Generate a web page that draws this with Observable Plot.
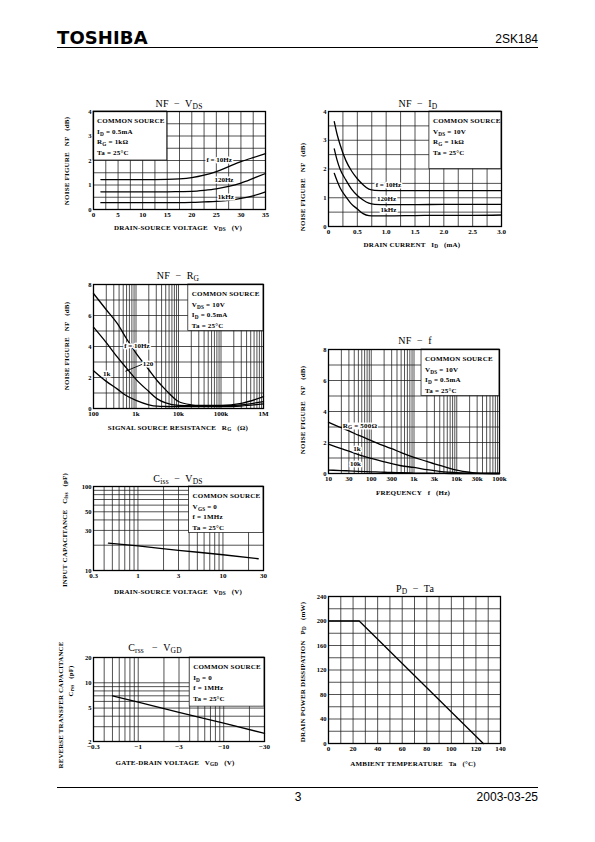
<!DOCTYPE html>
<html><head><meta charset="utf-8">
<script src="https://cdn.jsdelivr.net/npm/d3@7"></script>
<script src="https://cdn.jsdelivr.net/npm/@observablehq/plot@0.6"></script>
<style>
body{margin:0;background:#fff;}
#page{position:relative;width:595px;height:842px;overflow:hidden;color:#000;background:#fff;}
sub{font-size:0.75em;vertical-align:-0.3em;line-height:0;}
</style></head><body><div id="page"></div>
<script>
// ================= DATA =================
// NF – VDS
const nfVdsX = [1.5, 5, 10, 15, 17.5, 20, 22.5, 25, 27.5, 30, 32.5, 35];
const nfVds10Hz = [1.22, 1.22, 1.22, 1.23, 1.25, 1.3, 1.4, 1.55, 1.75, 1.95, 2.12, 2.28];
const nfVds120Hz = [0.72, 0.72, 0.72, 0.72, 0.73, 0.74, 0.78, 0.84, 0.94, 1.08, 1.27, 1.47];
const nfVds1kHz = [0.28, 0.28, 0.28, 0.28, 0.28, 0.29, 0.31, 0.33, 0.37, 0.45, 0.56, 0.72];
const nfVdsXTicks = [0, 5, 10, 15, 20, 25, 30, 35];
const nfVdsYTicks = [0, 1, 2, 3, 4];
const nfVdsLabels = [{x: 23, y: 2.03, t: "f = 10Hz"}, {x: 24.6, y: 1.21, t: "120Hz"}, {x: 25.3, y: 0.53, t: "1kHz"}];

// NF – ID
const nfIdX = [0.1, 0.15, 0.2, 0.3, 0.4, 0.5, 0.6, 0.7, 0.8, 1.0, 1.5, 2.0, 2.5, 3.0];
const nfId10Hz = [3.65, 3.2, 2.85, 2.3, 1.93, 1.66, 1.45, 1.3, 1.26, 1.25, 1.25, 1.25, 1.25, 1.25];
const nfId120Hz = [2.7, 2.3, 2.0, 1.62, 1.3, 1.08, 0.92, 0.81, 0.77, 0.76, 0.76, 0.77, 0.77, 0.77];
const nfId1kHz = [1.85, 1.58, 1.35, 1.04, 0.78, 0.61, 0.45, 0.38, 0.37, 0.37, 0.38, 0.39, 0.39, 0.4];
const nfIdXTicks = [0, 0.5, 1.0, 1.5, 2.0, 2.5, 3.0];
const nfIdXTickLabels = ["0", "0.5", "1.0", "1.5", "2.0", "2.5", "3.0"];
const nfIdYTicks = [0, 1, 2, 3, 4];
const nfIdLabels = [{x: 0.82, y: 1.45, t: "f = 10Hz"}, {x: 0.84, y: 0.96, t: "120Hz"}, {x: 0.9, y: 0.58, t: "1kHz"}];

// NF – RG
const nfRgX = [100, 200, 365, 600, 1000, 2000, 3160, 5000, 10000, 20000, 30000, 100000, 300000, 1000000];
const nfRg10Hz = [7.42, 6.37, 5.47, 4.5, 3.58, 2.5, 1.79, 1.2, 0.45, 0.24, 0.2, 0.2, 0.33, 0.76];
const nfRg120 = [5.25, 4.25, 3.31, 2.6, 1.88, 1.1, 0.62, 0.36, 0.2, 0.18, 0.18, 0.18, 0.24, 0.45];
const nfRg1k = [2.44, 1.75, 1.25, 0.82, 0.52, 0.24, 0.15, 0.13, 0.12, 0.12, 0.12, 0.12, 0.16, 0.3];
const nfRgXTicks = [100, 1000, 10000, 100000, 1000000];
const nfRgXTickLabels = ["100", "1k", "10k", "100k", "1M"];
const nfRgYTicks = [0, 2, 4, 6, 8];
const nfRgLabels = [{x: 530, y: 4.05, t: "f = 10Hz"}, {x: 1450, y: 2.9, t: "120"}, {x: 168, y: 2.27, t: "1k"}];
const nfRgLeader = [{x1: 560, y1: 2.4, x2: 1400, y2: 2.85}];

// NF – f
const nfFX = [10, 20, 30, 50, 100, 200, 300, 500, 1000, 2000, 3000, 5000, 10000, 20000, 30000, 100000];
const nfF500 = [3.31, 2.95, 2.75, 2.47, 2.12, 1.78, 1.6, 1.35, 1.04, 0.78, 0.62, 0.45, 0.22, 0.08, 0.03, 0];
const nfF1k = [1.9, 1.6, 1.45, 1.22, 0.97, 0.75, 0.63, 0.5, 0.39, 0.25, 0.18, 0.11, 0.06, 0.02, 0.005, 0];
const nfF10k = [0.22, 0.19, 0.17, 0.14, 0.11, 0.08, 0.07, 0.05, 0.03, 0.02, 0.01, 0.005, 0, 0, 0, 0];
const nfFXTicks = [10, 30, 100, 300, 1000, 3000, 10000, 30000, 100000];
const nfFXTickLabels = ["10", "30", "100", "300", "1k", "3k", "10k", "30k", "100k"];
const nfFYTicks = [0, 2, 4, 6, 8];
const nfFLabels = [{x: 38, y: 1.62, t: "1k"}, {x: 32, y: 0.62, t: "10k"}];

// Ciss – VDS
const cissVds = [0.45, 1, 3, 10, 26];
const cissVal = [21.2, 19.6, 17.4, 15.4, 13.8];
const cissXTicks = [0.3, 1, 3, 10, 30];
const cissYTicks = [10, 30, 50, 100];

// Crss – VGD  (|VGD| on a log axis, labelled negative)
const crssVgd = [0.5, 1, 3, 10, 30];
const crssVal = [7.0, 5.9, 4.45, 3.3, 2.5];
const crssXTicks = [0.3, 1, 3, 10, 30];
const crssXTickLabels = ["\u22120.3", "\u22121", "\u22123", "\u221210", "\u221230"];
const crssYTicks = [2, 5, 10, 20];

// PD – Ta
const pdTa = [0, 25, 126];
const pdVal = [200, 200, 0];
const pdXTicks = [0, 20, 40, 60, 80, 100, 120, 140];
const pdYTicks = [0, 40, 80, 120, 160, 200, 240];

// ================= HELPERS =================
const page = document.getElementById("page");
const SERIF = '"Liberation Serif", "DejaVu Serif", serif';
const GRID = "#1a1a1a";

function txt(html, x, y, o = {}) {
  const d = document.createElement("div");
  d.innerHTML = html;
  const s = d.style;
  s.position = "absolute"; s.whiteSpace = "pre"; s.left = x + "px"; s.top = y + "px";
  s.fontSize = (o.size || 7) + "px";
  s.fontWeight = o.weight || "bold";
  s.fontFamily = o.font || SERIF;
  s.lineHeight = o.lh ? o.lh + "px" : "1";
  s.letterSpacing = (o.ls == null ? 0.2 : o.ls) + "px";
  const tx = o.align === "left" ? "0" : o.align === "right" ? "-100%" : "-50%";
  const ty = o.valign === "top" ? "0" : "-50%";
  s.transform = `translate(${tx},${ty})` + (o.rot ? " rotate(-90deg)" : "");
  if (o.bg) { s.background = "white"; s.padding = "0 1px"; }
  page.appendChild(d);
  return d;
}
function series(xs, ys, name) { return xs.map((x, i) => ({x, y: ys[i], s: name})); }
function logGrid(lo, hi) {
  const out = [];
  for (let dec = Math.pow(10, Math.floor(Math.log10(lo))); dec < hi * 1.0001; dec *= 10)
    for (let m = 1; m <= 9; m++) { const v = +(m * dec).toPrecision(6); if (v > lo * 1.0001 && v < hi * 0.9999) out.push(v); }
  return out;
}
function panel(c) {
  const mL = 26, mR = 14, mT = 8, mB = 18;
  const xf = c.xf || (d => String(d));
  const yf = c.yf || (d => String(d));
  const p = Plot.plot({
    width: c.fx1 - c.fx0 + mL + mR,
    height: c.fy1 - c.fy0 + mT + mB,
    marginLeft: mL, marginRight: mR, marginTop: mT, marginBottom: mB,
    style: {fontFamily: SERIF, fontSize: "7px", fontWeight: "bold", background: "transparent", overflow: "visible"},
    x: {...c.x, axis: null}, y: {...c.y, axis: null},
    marks: [
      Plot.ruleX(c.gx, {stroke: GRID, strokeWidth: 0.75}),
      Plot.ruleY(c.gy, {stroke: GRID, strokeWidth: 0.75}),
      c.box ? Plot.rect(c.box, {x1: "x1", x2: "x2", y1: "y1", y2: "y2", fill: "white", stroke: GRID, strokeWidth: 0.75}) : null,
      ...(c.marks || []),
      Plot.frame({stroke: "black", strokeWidth: 1.3}),
      Plot.text(c.xt, {x: d => d, text: xf, frameAnchor: "bottom", lineAnchor: "top", dy: 3, fontSize: 7}),
      Plot.text(c.yt, {y: d => d, text: yf, frameAnchor: "left", textAnchor: "end", dx: -2, fontSize: 6.5})
    ]
  });
  p.style.position = "absolute";
  p.style.left = (c.fx0 - mL) + "px";
  p.style.top = (c.fy0 - mT) + "px";
  page.appendChild(p);
  const sx = p.scale("x"), sy = p.scale("y");
  return {X: v => c.fx0 - mL + sx.apply(v), Y: v => c.fy0 - mT + sy.apply(v)};
}
const curve = (data) => Plot.line(data, {x: "x", y: "y", z: "s", curve: "monotone-x", stroke: "black", strokeWidth: 1.3});
const halo = (data, anchor = "start") => Plot.text(data, {x: "x", y: "y", text: "t", textAnchor: anchor, fill: "black", stroke: "white", strokeWidth: 3, paintOrder: "stroke", fontSize: 7});
function legend(P, x1, y2, lines) {
  txt(lines.join("<br>"), P.X(x1) + 4, P.Y(y2) + 5, {align: "left", valign: "top", lh: 10.5});
}

// ================= HEADER / FOOTER =================
txt("TOSHIBA", 57, 38, {align: "left", size: 18, weight: "900", font: '"DejaVu Sans", sans-serif', ls: 0.1});
txt("2SK184", 538, 39, {align: "right", size: 12, weight: "normal", font: '"Liberation Sans", Arial, sans-serif', ls: 0});
txt("3", 298, 797, {size: 12, weight: "normal", font: '"Liberation Sans", Arial, sans-serif', ls: 0});
txt("2003-03-25", 538, 797, {align: "right", size: 12, weight: "normal", font: '"Liberation Sans", Arial, sans-serif', ls: 0});
for (const yy of [47, 787]) {
  const l = document.createElement("div");
  Object.assign(l.style, {position: "absolute", left: "57px", top: yy + "px", width: "481px", height: "1.3px", background: "#000"});
  page.appendChild(l);
}

// ================= PANEL 1: NF – VDS =================
{
  const P = panel({fx0: 93, fx1: 265, fy0: 111, fy1: 209,
    x: {domain: [0, 35]}, y: {domain: [0, 4]},
    gx: d3.range(2.5, 35, 2.5), gy: d3.range(0.5, 4, 0.5),
    box: [{x1: 0, x2: 15, y1: 2, y2: 4}],
    xt: nfVdsXTicks, yt: nfVdsYTicks,
    marks: [curve([...series(nfVdsX, nfVds10Hz, "10Hz"), ...series(nfVdsX, nfVds120Hz, "120Hz"), ...series(nfVdsX, nfVds1kHz, "1kHz")]), halo(nfVdsLabels)]
  });
  txt("NF  \u2212  V<sub>DS</sub>", 179, 104, {size: 10, weight: "normal"});
  txt("DRAIN-SOURCE VOLTAGE   V<sub>DS</sub>   (V)", 178, 228);
  txt("NOISE FIGURE   NF   (dB)", 67, 161, {rot: true});
  legend(P, 0, 4, ["COMMON SOURCE", "I<sub>D</sub> = 0.5mA", "R<sub>G</sub> = 1k\u03A9", "Ta = 25\u00B0C"]);
}

// ================= PANEL 2: NF – ID =================
{
  const P = panel({fx0: 328, fx1: 501, fy0: 111, fy1: 226,
    x: {domain: [0, 3]}, y: {domain: [0, 4]},
    gx: d3.range(0.25, 3, 0.25), gy: d3.range(0.5, 4, 0.5),
    box: [{x1: 1.75, x2: 3, y1: 2, y2: 4}],
    xt: nfIdXTicks, xf: d => nfIdXTickLabels[nfIdXTicks.indexOf(d)], yt: nfIdYTicks,
    marks: [curve([...series(nfIdX, nfId10Hz, "10Hz"), ...series(nfIdX, nfId120Hz, "120Hz"), ...series(nfIdX, nfId1kHz, "1kHz")]), halo(nfIdLabels)]
  });
  txt("NF  \u2212  I<sub>D</sub>", 418, 104, {size: 10, weight: "normal"});
  txt("DRAIN CURRENT   I<sub>D</sub>   (mA)", 412, 245);
  txt("NOISE FIGURE   NF   (dB)", 303, 187, {rot: true});
  legend(P, 1.75, 4, ["COMMON SOURCE", "V<sub>DS</sub> = 10V", "R<sub>G</sub> = 1k\u03A9", "Ta = 25\u00B0C"]);
}

// ================= PANEL 3: NF – RG =================
{
  const P = panel({fx0: 93, fx1: 263, fy0: 284, fy1: 408,
    x: {type: "log", domain: [100, 1e6]}, y: {domain: [0, 8]},
    gx: logGrid(100, 1e6), gy: d3.range(1, 8, 1),
    box: [{x1: 17000, x2: 1e6, y1: 5, y2: 8}],
    xt: nfRgXTicks, xf: d => nfRgXTickLabels[nfRgXTicks.indexOf(d)], yt: nfRgYTicks,
    marks: [curve([...series(nfRgX, nfRg10Hz, "10Hz"), ...series(nfRgX, nfRg120, "120"), ...series(nfRgX, nfRg1k, "1k")]),
      Plot.link(nfRgLeader, {x1: "x1", y1: "y1", x2: "x2", y2: "y2", stroke: "black", strokeWidth: 0.9}),
      halo(nfRgLabels)]
  });
  txt("NF  \u2212  R<sub>G</sub>", 178, 276, {size: 10, weight: "normal"});
  txt("SIGNAL SOURCE RESISTANCE   R<sub>G</sub>   (\u03A9)", 178, 428);
  txt("NOISE FIGURE   NF   (dB)", 67, 346, {rot: true});
  legend(P, 17000, 8, ["COMMON SOURCE", "V<sub>DS</sub> = 10V", "I<sub>D</sub> = 0.5mA", "Ta = 25\u00B0C"]);
}

// ================= PANEL 4: NF – f =================
{
  const P = panel({fx0: 328, fx1: 499, fy0: 349, fy1: 473,
    x: {type: "log", domain: [10, 1e5]}, y: {domain: [0, 8]},
    gx: logGrid(10, 1e5), gy: d3.range(1, 8, 1),
    box: [{x1: 1500, x2: 1e5, y1: 5, y2: 8}],
    xt: nfFXTicks, xf: d => nfFXTickLabels[nfFXTicks.indexOf(d)], yt: nfFYTicks,
    marks: [curve([...series(nfFX, nfF500, "500"), ...series(nfFX, nfF1k, "1k"), ...series(nfFX, nfF10k, "10k")]), halo(nfFLabels)]
  });
  txt("R<sub>G</sub> = 500\u03A9", P.X(22) - 1, P.Y(3.05), {align: "left", bg: true});
  txt("NF  \u2212  f", 415, 341, {size: 10, weight: "normal"});
  txt("FREQUENCY   f   (Hz)", 413, 493);
  txt("NOISE FIGURE   NF   (dB)", 303, 410, {rot: true});
  legend(P, 1500, 8, ["COMMON SOURCE", "V<sub>DS</sub> = 10V", "I<sub>D</sub> = 0.5mA", "Ta = 25\u00B0C"]);
}

// ================= PANEL 5: Ciss – VDS =================
{
  const P = panel({fx0: 93, fx1: 263, fy0: 486, fy1: 570,
    x: {type: "log", domain: [0.3, 30]}, y: {type: "log", domain: [10, 100]},
    gx: logGrid(0.3, 30), gy: logGrid(10, 100),
    box: [{x1: 4, x2: 30, y1: 28, y2: 100}],
    xt: cissXTicks, yt: cissYTicks,
    marks: [curve(series(cissVds, cissVal, "ciss"))]
  });
  txt("C<sub>iss</sub>  \u2212  V<sub>DS</sub>", 178, 479, {size: 10, weight: "normal"});
  txt("DRAIN-SOURCE VOLTAGE   V<sub>DS</sub>   (V)", 178, 592);
  txt("INPUT CAPACITANCE   C<sub>iss</sub>   (pF)", 65, 530, {rot: true});
  legend(P, 4, 100, ["COMMON SOURCE", "V<sub>GS</sub> = 0", "f = 1MHz", "Ta = 25\u00B0C"]);
}

// ================= PANEL 6: Crss – VGD =================
{
  const P = panel({fx0: 93, fx1: 264, fy0: 657, fy1: 741,
    x: {type: "log", domain: [0.3, 30]}, y: {type: "log", domain: [2, 20]},
    gx: logGrid(0.3, 30), gy: logGrid(2, 20),
    box: [{x1: 4, x2: 30, y1: 5.2, y2: 20}],
    xt: crssXTicks, xf: d => crssXTickLabels[crssXTicks.indexOf(d)], yt: crssYTicks,
    marks: [curve(series(crssVgd, crssVal, "crss"))]
  });
  txt("C<sub>rss</sub>   \u2212  V<sub>GD</sub>", 155, 648, {size: 10, weight: "normal"});
  txt("GATE-DRAIN VOLTAGE   V<sub>GD</sub>   (V)", 175, 763);
  txt("REVERSE TRANSFER CAPACITANCE", 61, 705, {rot: true, size: 6.8});
  txt("C<sub>rss</sub>   (pF)", 71, 681, {rot: true, size: 6.8});
  legend(P, 4, 20, ["COMMON SOURCE", "I<sub>D</sub> = 0", "f = 1MHz", "Ta = 25\u00B0C"]);
}

// ================= PANEL 7: PD – Ta =================
{
  panel({fx0: 328, fx1: 500, fy0: 596, fy1: 743,
    x: {domain: [0, 140]}, y: {domain: [0, 240]},
    gx: d3.range(10, 140, 10), gy: d3.range(20, 240, 20),
    xt: pdXTicks, yt: pdYTicks,
    marks: [Plot.line(pdTa.map((t, i) => ({x: t, y: pdVal[i]})), {x: "x", y: "y", stroke: "black", strokeWidth: 1.3})]
  });
  txt("P<sub>D</sub>  \u2212  Ta", 415, 589, {size: 10, weight: "normal"});
  txt("AMBIENT TEMPERATURE   Ta   (\u00B0C)", 413, 764);
  txt("DRAIN POWER DISSIPATION   P<sub>D</sub>   (mW)", 303, 672, {rot: true});
}
</script></body></html>
